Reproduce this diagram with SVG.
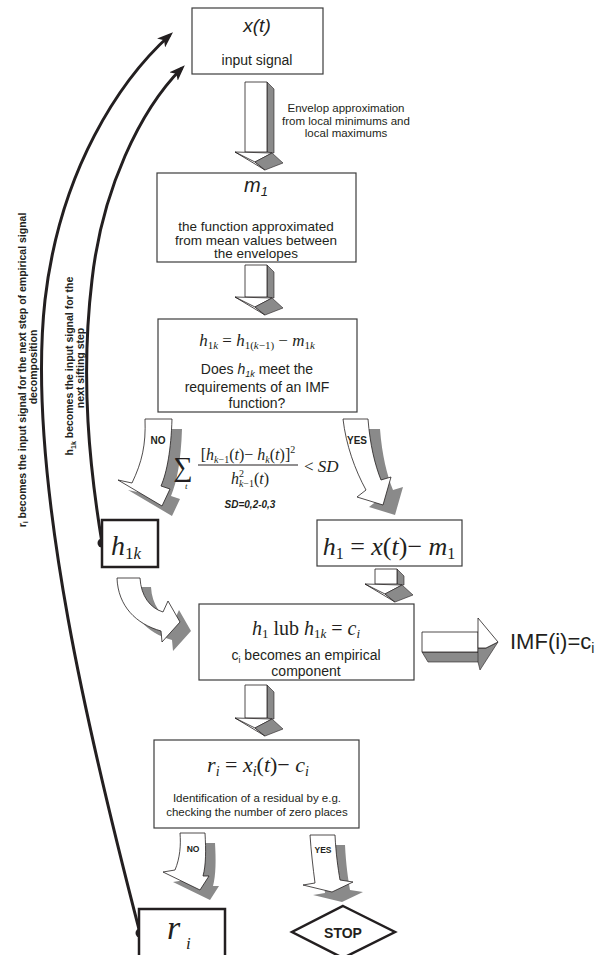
<svg xmlns="http://www.w3.org/2000/svg" width="601" height="955" viewBox="0 0 601 955">
<style>
.box{fill:#fff;stroke:#3c3c3c;stroke-width:1.2}
.tbox{fill:#fff;stroke:#231f20;stroke-width:2.5}
.sans{font-family:"Liberation Sans",Arial,sans-serif;fill:#231f20}
.serif{font-family:"Liberation Serif","Times New Roman",serif;fill:#231f20}
.it{font-style:italic}
.w{fill:#fff;stroke:#231f20;stroke-width:0.8;stroke-linejoin:round}
.g{fill:#8a8a8a;stroke:#231f20;stroke-width:0.6;stroke-linejoin:round}
.sh{fill:#8a8a8a;stroke:none}
.fb{fill:none;stroke:#231f20;stroke-width:3}
.lbl{font-family:"Liberation Sans",Arial,sans-serif;font-weight:bold;fill:#231f20}
</style>
<defs>
<marker id="ah" viewBox="0 0 16 12" refX="12" refY="6" markerWidth="16" markerHeight="12" markerUnits="userSpaceOnUse" orient="auto">
<path d="M0,0 L16,6 L0,12 L4,6 Z" fill="#231f20"/>
</marker>
<path id="noUp" d="M145,419 H172 C171,450 167,472 161,486 L170,489 L162,506 L118,480 L132,483 C142,462 146,445 145,419 Z"/>
<path id="yesUp" d="M343,419 H368 C370,445 375,465 381,480 L391,477 L383,505 L357,497 L366,490 C355,470 346,445 343,419 Z"/>
<path id="noBot" d="M180,833 H205 C206,850 206,865 203,876 L209,876 L200,890 L163,872 L175,870 C180,858 181,845 180,833 Z"/>
<path id="yesBot" d="M310,835 H335 C336,855 338,868 340,880 L353,882 L332,892 L303,885 L315,883 C313,868 311,850 310,835 Z"/>
<path id="bend" d="M117,578 H140 C141,596 150,608 163,612 L168,601 L180,622 L162,642 L161,631 C136,624 118,606 117,578 Z"/>
</defs>

<g id="connectors">
  <path class="fb" d="M140,933 C95,760 25,480 45,300 C60,170 120,80 170,35" marker-end="url(#ah)"/>
  <path class="fb" d="M102,543 C90,470 80,380 92,280 C102,190 140,110 182,68" marker-end="url(#ah)"/>
  <circle cx="102" cy="543" r="4.5" fill="#231f20"/>
  <circle cx="140" cy="933" r="4.5" fill="#231f20"/>

  <g transform="translate(245,82)">
    <polygon class="g" points="22,0 29,7 29,71 22,70"/>
    <rect class="w" x="0" y="0" width="22" height="70"/>
    <polygon class="w" points="-10,70 27,71 10,80 20,88"/>
    <polygon class="g" points="10,80 27,71 38,81 20,88"/>
    <line x1="-10" y1="70" x2="10" y2="80" stroke="#231f20" stroke-width="0.8"/>
  </g>
  <g transform="translate(245,265)">
    <polygon class="g" points="22,0 29,7 29,33 22,32"/>
    <rect class="w" x="0" y="0" width="22" height="32"/>
    <polygon class="w" points="-10,32 27,33 10,42 20,50"/>
    <polygon class="g" points="10,42 27,33 38,43 20,50"/>
    <line x1="-10" y1="32" x2="10" y2="42" stroke="#231f20" stroke-width="0.8"/>
  </g>
  <g transform="translate(375,569)">
    <polygon class="g" points="22,0 29,7 29,16 22,15"/>
    <rect class="w" x="0" y="0" width="22" height="15"/>
    <polygon class="w" points="-10,15 27,16 10,25 20,33"/>
    <polygon class="g" points="10,25 27,16 38,26 20,33"/>
    <line x1="-10" y1="15" x2="10" y2="25" stroke="#231f20" stroke-width="0.8"/>
  </g>
  <g transform="translate(245,685)">
    <polygon class="g" points="22,0 29,7 29,34 22,33"/>
    <rect class="w" x="0" y="0" width="22" height="33"/>
    <polygon class="w" points="-10,33 27,34 10,43 20,51"/>
    <polygon class="g" points="10,43 27,34 38,44 20,51"/>
    <line x1="-10" y1="33" x2="10" y2="43" stroke="#231f20" stroke-width="0.8"/>
  </g>

  <g>
    <polygon class="g" points="422,652 478,652 483,662 428,662"/>
    <rect class="w" x="422" y="632" width="56" height="20"/>
    <polygon class="g" points="478,648 486,648 498,642 480,670 478,662"/>
    <polygon class="w" points="478,618 498,642 486,648 478,648"/>
  </g>

  <use href="#noUp" class="sh" transform="translate(10,10)"/>
  <use href="#noUp" class="w"/>
  <use href="#yesUp" class="sh" transform="translate(12,10)"/>
  <use href="#yesUp" class="w"/>
  <use href="#bend" class="sh" transform="translate(11,9)"/>
  <use href="#bend" class="w"/>
  <use href="#noBot" class="sh" transform="translate(10,10)"/>
  <use href="#noBot" class="w"/>
  <use href="#yesBot" class="sh" transform="translate(10,10)"/>
  <use href="#yesBot" class="w"/>

  <text class="lbl" x="158" y="444" font-size="10" text-anchor="middle">NO</text>
  <text class="lbl" x="357" y="444" font-size="10" text-anchor="middle">YES</text>
  <text class="lbl" x="193" y="852" font-size="8.5" text-anchor="middle">NO</text>
  <text class="lbl" x="323" y="853" font-size="8.5" text-anchor="middle">YES</text>

  <text class="sans" x="346" y="112" font-size="11.5" text-anchor="middle">Envelop approximation</text>
  <text class="sans" x="346" y="124.5" font-size="11.5" text-anchor="middle">from local minimums and</text>
  <text class="sans" x="346" y="137" font-size="11.5" text-anchor="middle">local maximums</text>

  <g class="lbl" font-size="10.5" text-anchor="middle">
    <text transform="translate(25.5,370) rotate(-90)">r<tspan font-size="7" dy="2.5">i</tspan><tspan dy="-2.5"> becomes the input signal for the next step of empirical signal</tspan></text>
    <text transform="translate(37,367) rotate(-90)">decomposition</text>
    <text transform="translate(73,366) rotate(-90)">h<tspan font-size="7" dy="2.5">1k</tspan><tspan dy="-2.5"> becomes the input signal for the</tspan></text>
    <text transform="translate(84,368) rotate(-90)">next sifting step</text>
  </g>

  <g id="sd-criterion" class="serif">
    <text x="183" y="476" font-size="27" text-anchor="middle">∑</text>
    <text x="185" y="489" font-size="9" class="it">t</text>
    <text x="248" y="460" font-size="16" text-anchor="middle">[<tspan class="it">h</tspan><tspan font-size="10" dy="3"><tspan class="it">k</tspan>−1</tspan><tspan dy="-3">(</tspan><tspan class="it">t</tspan>)− <tspan class="it">h</tspan><tspan font-size="10" dy="3" class="it">k</tspan><tspan dy="-3">(</tspan><tspan class="it">t</tspan>)]<tspan font-size="10" dy="-7">2</tspan></text>
    <line x1="198" y1="465" x2="298" y2="465" stroke="#231f20" stroke-width="1"/>
    <text x="250" y="484" font-size="16" text-anchor="middle"><tspan class="it">h</tspan><tspan font-size="10" dy="-7">2</tspan><tspan font-size="10" dx="-5" dy="10"><tspan class="it">k</tspan>−1</tspan><tspan dy="-3">(</tspan><tspan class="it">t</tspan>)</text>
    <text x="304" y="472" font-size="17">&lt; <tspan class="it">SD</tspan></text>
  </g>
  <text class="lbl" x="250" y="508" font-size="10" font-style="italic" text-anchor="middle">SD=0,2-0,3</text>
</g>

<g id="n-xt">
  <rect class="box" x="192" y="8" width="131" height="66"/>
  <text class="sans it" x="257" y="32" font-size="19" text-anchor="middle">x(t)</text>
  <text class="sans" x="257" y="65" font-size="14" text-anchor="middle">input signal</text>
</g>

<g id="n-m1">
  <rect class="box" x="157" y="173" width="199" height="89"/>
  <text class="sans it" x="256" y="192" font-size="20" text-anchor="middle">m<tspan font-size="13" dy="4">1</tspan></text>
  <text class="sans" x="256" y="231" font-size="13.5" text-anchor="middle">the function approximated</text>
  <text class="sans" x="256" y="244.5" font-size="13.5" text-anchor="middle">from mean values between</text>
  <text class="sans" x="256" y="258" font-size="13.5" text-anchor="middle">the envelopes</text>
</g>

<g id="n-check">
  <rect class="box" x="158" y="319" width="199" height="93"/>
  <text class="serif" x="257" y="346" font-size="17" text-anchor="middle"><tspan class="it">h</tspan><tspan font-size="11" dy="3">1<tspan class="it">k</tspan></tspan><tspan dy="-3"> = </tspan><tspan class="it">h</tspan><tspan font-size="11" dy="3">1(<tspan class="it">k</tspan>−1)</tspan><tspan dy="-3"> − </tspan><tspan class="it">m</tspan><tspan font-size="11" dy="3">1<tspan class="it">k</tspan></tspan></text>
  <text class="sans" x="257" y="374" font-size="14" text-anchor="middle">Does <tspan class="it">h</tspan><tspan class="it" font-size="9" dy="3">1k</tspan><tspan dy="-3"> meet the</tspan></text>
  <text class="sans" x="257" y="391.5" font-size="14" text-anchor="middle">requirements of an IMF</text>
  <text class="sans" x="257" y="408" font-size="14" text-anchor="middle">function?</text>
</g>

<g id="n-h1k">
  <rect class="tbox" x="102" y="520" width="56" height="47"/>
  <text class="serif" x="111" y="555" font-size="28"><tspan class="it">h</tspan><tspan font-size="17" dy="4">1<tspan class="it">k</tspan></tspan></text>
</g>

<g id="n-h1">
  <rect class="box" x="317" y="520" width="145" height="46" stroke="#555"/>
  <text class="serif" x="389" y="555" font-size="26" text-anchor="middle"><tspan class="it">h</tspan><tspan font-size="16" dy="4">1</tspan><tspan dy="-4"> = </tspan><tspan class="it">x</tspan>(<tspan class="it">t</tspan>)− <tspan class="it">m</tspan><tspan font-size="16" dy="4">1</tspan></text>
</g>

<g id="n-ci">
  <rect class="box" x="199" y="604" width="215" height="76"/>
  <text class="serif" x="306" y="635" font-size="20" text-anchor="middle"><tspan class="it">h</tspan><tspan font-size="13" dy="3">1</tspan><tspan dy="-3"> lub </tspan><tspan class="it">h</tspan><tspan font-size="13" dy="3">1<tspan class="it">k</tspan></tspan><tspan dy="-3"> = </tspan><tspan class="it">c</tspan><tspan font-size="13" dy="3" class="it">i</tspan></text>
  <text class="sans" x="306" y="660" font-size="14" text-anchor="middle">c<tspan font-size="9" dy="3">i</tspan><tspan dy="-3"> becomes an empirical</tspan></text>
  <text class="sans" x="306" y="676" font-size="14" text-anchor="middle">component</text>
</g>

<g id="n-imf">
  <text class="sans" x="510" y="649" font-size="22">IMF(i)=c<tspan font-size="14" dy="4">i</tspan></text>
</g>

<g id="n-residual">
  <rect class="box" x="154" y="740" width="205" height="88"/>
  <text class="serif" x="258" y="772" font-size="22" text-anchor="middle"><tspan class="it">r</tspan><tspan font-size="14" dy="4" class="it">i</tspan><tspan dy="-4"> = </tspan><tspan class="it">x</tspan><tspan font-size="14" dy="4" class="it">i</tspan><tspan dy="-4">(</tspan><tspan class="it">t</tspan>)− <tspan class="it">c</tspan><tspan font-size="14" dy="4" class="it">i</tspan></text>
  <text class="sans" x="257" y="802" font-size="11.5" text-anchor="middle">Identification of a residual by e.g.</text>
  <text class="sans" x="257" y="816" font-size="11.5" text-anchor="middle">checking the number of zero places</text>
</g>

<g id="n-ri">
  <rect class="tbox" x="139" y="909" width="86" height="48"/>
  <text class="serif it" x="167" y="939" font-size="34">r</text>
  <text class="serif it" x="186" y="949" font-size="17">i</text>
</g>

<g id="n-stop">
  <polygon points="343,906 395,932 343,958 292,932" fill="#fff" stroke="#231f20" stroke-width="2.5"/>
  <text class="lbl" x="343" y="938" font-size="14" text-anchor="middle">STOP</text>
</g>
</svg>
